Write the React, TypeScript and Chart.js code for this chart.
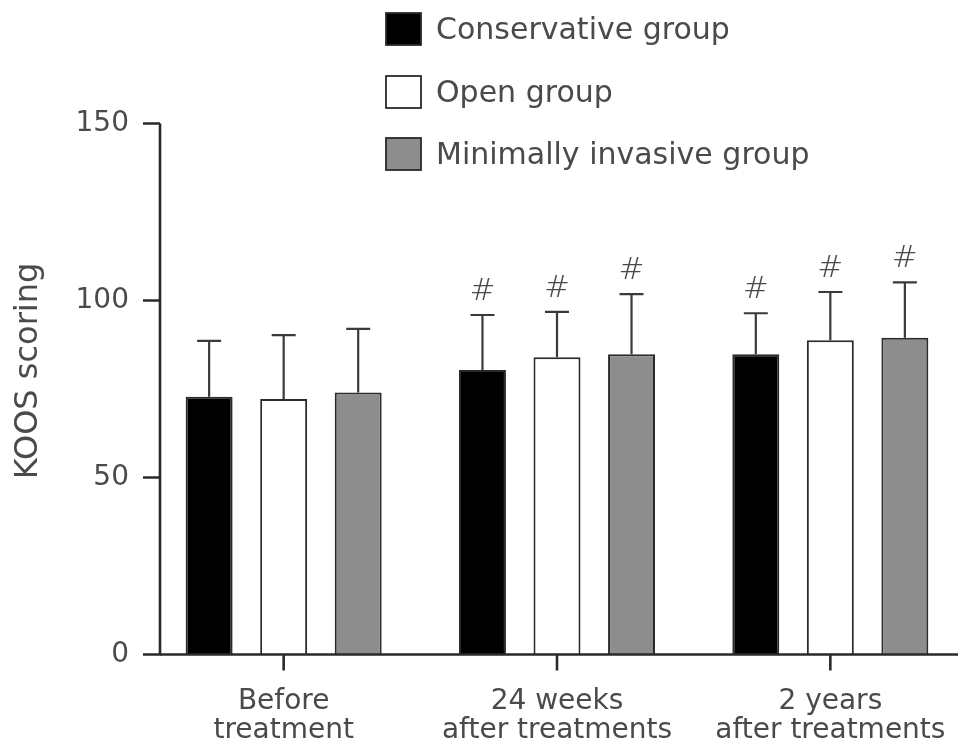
import React, { useEffect, useRef } from 'react';
import { Chart, registerables } from 'chart.js';

Chart.register(...registerables);

// ---------- data ----------
const categories: string[][] = [
  ['Before', 'treatment'],
  ['24 weeks', 'after treatments'],
  ['2 years', 'after treatments'],
];
const seriesNames = ['Conservative group', 'Open group', 'Minimally invasive group'];
const conservativeMean = [72.8, 80.4, 84.8];
const conservativeSD = [15.8, 15.5, 11.6];
const openMean = [72.2, 84.0, 88.8];
const openSD = [18.0, 12.8, 13.6];
const minimalMean = [74.0, 84.8, 89.5];
const minimalSD = [18.0, 17.0, 15.6];
const significance = ['', '#', '#'];
const yTicks = [0, 50, 100, 150];
const yTitle = 'KOOS scoring';

// ---------- styles ----------
const FILLS = ['#000000', '#ffffff', '#8d8d8d'];
const EDGE = '#2a2a2a';
const TEXT = '#4a4a4a';
const FONT = '"DejaVu Sans", "Liberation Sans", sans-serif';

const means = [conservativeMean, openMean, minimalMean];
const sds = [conservativeSD, openSD, minimalSD];

const decorPlugin = {
  id: 'decor',
  afterDatasetsDraw(chart: any) {
    const ctx = chart.ctx;
    const y = chart.scales.y;
    ctx.save();
    means.forEach((_, di) => {
      const meta = chart.getDatasetMeta(di);
      meta.data.forEach((bar: any, i: number) => {
        const top = y.getPixelForValue(means[di][i]);
        const errY = y.getPixelForValue(means[di][i] + sds[di][i]);
        ctx.strokeStyle = '#3a3a3a';
        ctx.lineWidth = 2.2;
        ctx.beginPath();
        ctx.moveTo(bar.x, top);
        ctx.lineTo(bar.x, errY);
        ctx.moveTo(bar.x - 12, errY);
        ctx.lineTo(bar.x + 12, errY);
        ctx.stroke();
        if (significance[i]) {
          ctx.fillStyle = '#4a4a4a';
          ctx.font = `200 31px ${FONT}`;
          ctx.textAlign = 'center';
          ctx.textBaseline = 'middle';
          ctx.fillText(significance[i], bar.x, errY - 23);
        }
      });
    });
    ctx.restore();
  },
  afterDraw(chart: any) {
    const ctx = chart.ctx;
    const y = chart.scales.y;
    const x = chart.scales.x;
    const area = chart.chartArea;
    const axisX = area.left + 13;
    ctx.save();
    ctx.strokeStyle = EDGE;
    ctx.lineWidth = 2.6;
    ctx.lineCap = 'butt';
    // y axis
    ctx.beginPath();
    ctx.moveTo(axisX, y.getPixelForValue(yTicks[yTicks.length - 1]));
    ctx.lineTo(axisX, y.getPixelForValue(0) + 1.3);
    yTicks.forEach((v) => {
      const py = y.getPixelForValue(v);
      ctx.moveTo(axisX - 17, py);
      ctx.lineTo(axisX, py);
    });
    ctx.stroke();
    // x axis
    const baseY = y.getPixelForValue(0);
    ctx.beginPath();
    ctx.moveTo(axisX, baseY);
    ctx.lineTo(area.right - 9, baseY);
    categories.forEach((_, i) => {
      const px = x.getPixelForValue(i);
      ctx.moveTo(px, baseY);
      ctx.lineTo(px, baseY + 16);
    });
    ctx.stroke();

    // y title
    ctx.fillStyle = TEXT;
    ctx.font = `32px ${FONT}`;
    ctx.textAlign = 'center';
    ctx.textBaseline = 'middle';
    ctx.translate(29, 371);
    ctx.rotate(-Math.PI / 2);
    ctx.fillText(yTitle, 0, 0);
    ctx.setTransform(chart.currentDevicePixelRatio, 0, 0, chart.currentDevicePixelRatio, 0, 0);

    // legend
    const legendTops = [13, 76, 138];
    seriesNames.forEach((name, i) => {
      ctx.fillStyle = FILLS[i];
      ctx.fillRect(386, legendTops[i], 35, 32);
      ctx.strokeStyle = EDGE;
      ctx.lineWidth = 1.8;
      ctx.strokeRect(386, legendTops[i], 35, 32);
      ctx.fillStyle = TEXT;
      ctx.font = `30px ${FONT}`;
      ctx.textAlign = 'left';
      ctx.textBaseline = 'middle';
      ctx.fillText(name, 436, legendTops[i] + 18);
    });
    ctx.restore();
  },
};

export default function App() {
  const ref = useRef<HTMLCanvasElement | null>(null);
  useEffect(() => {
    if (!ref.current) return;
    const chart = new Chart(ref.current, {
      type: 'bar',
      data: {
        labels: categories,
        datasets: seriesNames.map((name, i) => ({
          label: name,
          data: means[i],
          backgroundColor: FILLS[i],
          borderColor: EDGE,
          borderWidth: 2,
          borderSkipped: 'start',
          categoryPercentage: 0.818,
          barPercentage: 0.63,
        })),
      },
      options: {
        responsive: false,
        animation: false,
        devicePixelRatio: 1,
        layout: { padding: { top: 123.5, right: 2, bottom: 0, left: 0 } },
        plugins: { legend: { display: false }, tooltip: { enabled: false } },
        scales: {
          x: {
            grid: { display: false, drawTicks: false },
            border: { display: false },
            ticks: {
              color: TEXT,
              font: { family: FONT, size: 28, lineHeight: 1.06 },
              padding: 32,
              maxRotation: 0,
              autoSkip: false,
            },
            afterFit: (s: any) => {
              s.height = 99.5;
              s.paddingLeft = 0;
              s.paddingRight = 0;
            },
          },
          y: {
            min: 0,
            max: 150,
            afterBuildTicks: (s: any) => {
              s.ticks = yTicks.map((v) => ({ value: v }));
            },
            grid: { display: false, drawTicks: false },
            border: { display: false },
            ticks: {
              color: TEXT,
              font: { family: FONT, size: 28 },
              padding: 18,
            },
            afterFit: (s: any) => {
              s.width = 147;
              s.paddingTop = 0;
              s.paddingBottom = 0;
            },
          },
        },
      },
      plugins: [decorPlugin],
    } as any);
    return () => chart.destroy();
  }, []);
  return (
    <div style={{ position: 'fixed', left: 0, top: 0, width: 969, height: 754, background: '#fff' }}>
      <canvas ref={ref} width={969} height={754} />
    </div>
  );
}
